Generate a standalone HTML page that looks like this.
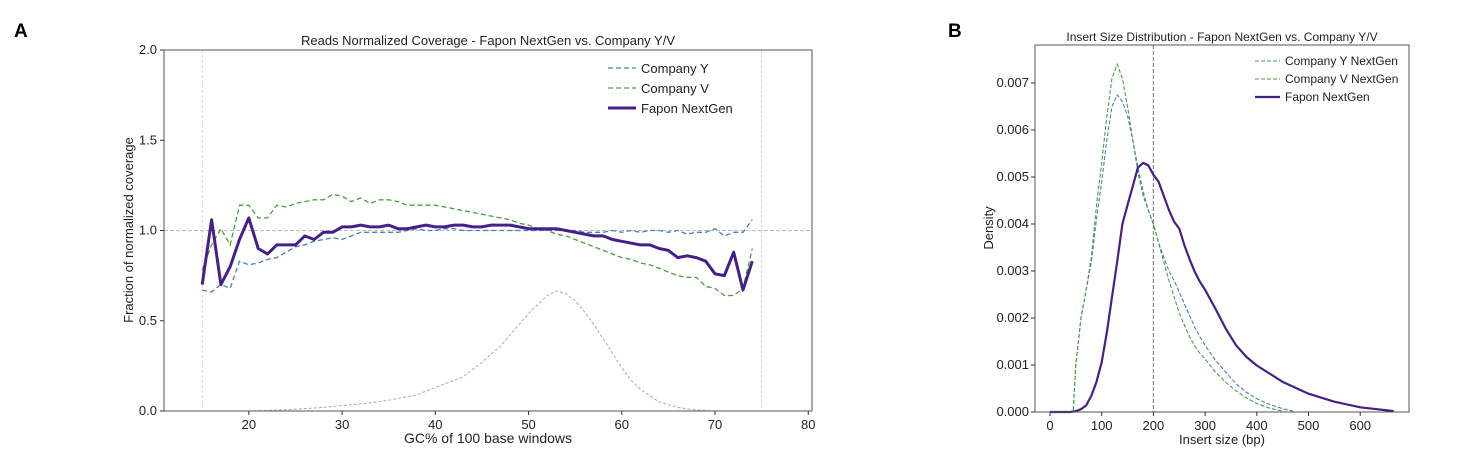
<!DOCTYPE html>
<html><head><meta charset="utf-8"><style>
body{margin:0;background:#fff;}
svg{display:block;font-family:"Liberation Sans","DejaVu Sans",sans-serif;}
</style></head><body>
<svg id="svg" width="1460" height="461" viewBox="0 0 1460 461">
<text x="14" y="37" font-size="19" font-weight="bold">A</text>
<text x="948" y="37" font-size="19" font-weight="bold">B</text>
<g id="chartA"></g>
<g id="chartB"></g>
</svg>
<script>
// ---- Chart A data ----
const gcX = [15,16,17,18,19,20,21,22,23,24,25,26,27,28,29,30,31,32,33,34,35,36,37,38,39,40,41,42,43,44,45,46,47,48,49,50,51,52,53,54,55,56,57,58,59,60,61,62,63,64,65,66,67,68,69,70,71,72,73,74];
const faponCov = [0.70,1.06,0.70,0.80,0.95,1.07,0.90,0.87,0.92,0.92,0.92,0.97,0.95,0.99,0.99,1.02,1.02,1.03,1.02,1.02,1.03,1.01,1.01,1.02,1.03,1.02,1.02,1.03,1.03,1.02,1.02,1.03,1.03,1.03,1.02,1.01,1.01,1.01,1.01,1.00,0.99,0.98,0.97,0.97,0.95,0.94,0.93,0.92,0.92,0.90,0.89,0.85,0.86,0.85,0.83,0.76,0.75,0.88,0.67,0.83];
const companyYCov = [0.67,0.66,0.70,0.68,0.83,0.81,0.82,0.84,0.85,0.88,0.91,0.92,0.94,0.95,0.96,0.95,0.97,0.99,0.99,0.99,0.99,0.99,1.00,1.01,1.00,1.00,1.01,1.01,1.00,1.00,1.00,1.00,1.00,1.00,1.00,1.00,1.00,1.00,1.00,1.00,1.00,0.99,0.99,0.99,1.00,0.99,1.00,0.99,1.00,1.00,0.99,1.00,0.98,0.99,0.99,1.01,0.97,0.99,0.99,1.06];
const companyVCov = [0.78,0.92,1.01,0.92,1.14,1.14,1.07,1.07,1.14,1.13,1.15,1.16,1.17,1.17,1.20,1.19,1.16,1.18,1.15,1.17,1.17,1.16,1.14,1.14,1.14,1.14,1.13,1.12,1.11,1.10,1.09,1.08,1.07,1.06,1.04,1.03,1.01,1.00,0.98,0.97,0.95,0.93,0.91,0.89,0.87,0.85,0.84,0.82,0.81,0.79,0.77,0.75,0.74,0.74,0.69,0.68,0.64,0.64,0.68,0.90];
const gcDistX = [20,22,25,28,30,33,35,38,40,42,43,45,47,48,50,51,52,53,54,55,56,57,58,59,60,61,62,64,66,68,70,72];
const gcDistY = [0.0,0.003,0.01,0.02,0.03,0.045,0.06,0.09,0.13,0.17,0.19,0.27,0.36,0.42,0.54,0.59,0.64,0.665,0.65,0.61,0.55,0.48,0.40,0.32,0.24,0.17,0.12,0.05,0.02,0.005,0.0,0.0];
const xTicksA = [20,30,40,50,60,70,80];
const yTicksA = [0.0,0.5,1.0,1.5,2.0];

// ---- Chart B data ----
const bpY = [0,40,45,50,60,70,80,90,100,110,120,130,140,150,160,170,180,190,200,210,220,230,240,250,260,270,280,290,300,320,340,360,380,400,425,450,470];
const compYDens = [0,0,0.05,1.0,2.0,2.6,3.2,4.1,4.9,5.8,6.5,6.75,6.6,6.3,5.8,5.2,4.7,4.3,4.0,3.6,3.3,3.0,2.8,2.55,2.3,2.05,1.8,1.6,1.42,1.1,0.85,0.6,0.42,0.28,0.16,0.07,0.02];
const bpV = [0,40,45,50,60,70,80,90,100,110,120,130,140,150,160,170,180,190,200,210,220,230,240,250,260,270,280,290,300,320,340,360,380,400,425,450];
const compVDens = [0,0,0.05,1.0,2.0,2.6,3.3,4.4,5.3,6.3,7.1,7.4,7.1,6.5,5.8,5.1,4.6,4.3,4.0,3.6,3.2,2.8,2.45,2.1,1.85,1.6,1.4,1.25,1.13,0.85,0.63,0.45,0.3,0.18,0.08,0.02];
const bpF = [0,40,50,60,70,80,90,100,110,120,130,140,150,160,170,180,190,200,210,220,230,240,250,260,270,280,290,300,320,340,360,380,400,450,500,550,600,665];
const faponDens = [0,0,0.02,0.06,0.14,0.35,0.64,1.06,1.7,2.45,3.2,4.0,4.4,4.8,5.2,5.3,5.25,5.05,4.9,4.6,4.3,4.05,3.9,3.55,3.25,2.98,2.77,2.6,2.2,1.77,1.42,1.17,0.99,0.64,0.39,0.22,0.1,0.02];
const xTicksB = [0,100,200,300,400,500,600];
const yTicksB = [0,1,2,3,4,5,6,7];

const NS="http://www.w3.org/2000/svg";
function mk(parent,tag,attrs,text){const e=document.createElementNS(NS,tag);for(const k in attrs)e.setAttribute(k,attrs[k]);if(text!==undefined)e.textContent=text;parent.appendChild(e);return e;}
function pathD(xs,ys,sx,sy){return xs.map((x,i)=>(i?'L':'M')+sx(x).toFixed(1)+','+sy(ys[i]).toFixed(1)).join('');}

// Chart A
(function(){
const g=document.getElementById('chartA');
const L=164,R=812,T=50,B=411;
const x0=10.9,x1=80.4;
const sx=v=>L+(v-x0)/(x1-x0)*(R-L);
const sy=v=>B-v/2*(B-T);
let e;
e=mk(g,'line',{x1:sx(15),x2:sx(15),y1:T,y2:B,stroke:'#ccc','stroke-width':0.8,'stroke-dasharray':'3,2'});


e=mk(g,'line',{x1:sx(75),x2:sx(75),y1:T,y2:B,stroke:'#ccc','stroke-width':0.8,'stroke-dasharray':'3,2'});


e=mk(g,'line',{x1:L,x2:R,y1:sy(1),y2:sy(1),stroke:'#bbb','stroke-width':1,'stroke-dasharray':'4,2'});


e=mk(g,'path',{d:pathD(gcDistX,gcDistY,sx,sy),fill:'none',stroke:'#aaa','stroke-width':1,'stroke-dasharray':'3,2'});


e=mk(g,'path',{d:pathD(gcX,companyYCov,sx,sy),fill:'none',stroke:'#4a7fc1','stroke-width':1.3,'stroke-dasharray':'5,3'});


e=mk(g,'path',{d:pathD(gcX,companyVCov,sx,sy),fill:'none',stroke:'#4f9a48','stroke-width':1.3,'stroke-dasharray':'5,3'});


e=mk(g,'path',{d:pathD(gcX,faponCov,sx,sy),fill:'none',stroke:'#45208a','stroke-width':3,'stroke-linejoin':'round'});


e=mk(g,'rect',{x:L,y:T,width:R-L,height:B-T,fill:'none',stroke:'#555','stroke-width':1});


xTicksA.forEach(t=>{
 e=mk(g,'line',{x1:sx(t),x2:sx(t),y1:B,y2:B+4,stroke:'#333'});
 
 
 e=mk(g,'text',{x:sx(t),y:B+18,'font-size':13,'text-anchor':'middle',fill:'#222'},String(t));
 
 
});
yTicksA.forEach(t=>{
 e=mk(g,'line',{x1:L-4,x2:L,y1:sy(t),y2:sy(t),stroke:'#333'});
 
 
 e=mk(g,'text',{x:L-7,y:sy(t)+4,'font-size':13,'text-anchor':'end',fill:'#222'},t.toFixed(1));
 
 
});
e=mk(g,'text',{x:(L+R)/2,y:443,'font-size':14,'text-anchor':'middle',fill:'#222'},'GC% of 100 base windows');


e=mk(g,'text',{x:0,y:0,'font-size':13,'text-anchor':'middle',fill:'#222',transform:'translate(133,230) rotate(-90)'},'Fraction of normalized coverage');


e=mk(g,'text',{x:(L+R)/2,y:45,'font-size':13,'text-anchor':'middle',fill:'#222'},'Reads Normalized Coverage - Fapon NextGen vs. Company Y/V');


const leg=[['Company Y','#4a7fc1',1.3,'5,3'],['Company V','#4f9a48',1.3,'5,3'],['Fapon NextGen','#45208a',3,'']];
leg.forEach((l,i)=>{
 const y=68+i*20;
 e=mk(g,'line',{x1:608,x2:636,y1:y,y2:y,stroke:l[1],'stroke-width':l[2],'stroke-dasharray':l[3]});
 
 
 e=mk(g,'text',{x:641,y:y+5,'font-size':13,fill:'#222'},l[0]);
 
 
});
})();

// Chart B
(function(){
const g=document.getElementById('chartB');
const L=1035,R=1409,T=45,B=412;
const sx=v=>1050+v*0.517;
const sy=v=>B-v*47.0;
let e;
e=mk(g,'line',{x1:sx(200),x2:sx(200),y1:T,y2:B,stroke:'#888','stroke-width':1.2,'stroke-dasharray':'4,2'});


e=mk(g,'path',{d:pathD(bpY,compYDens,sx,sy),fill:'none',stroke:'#4a7fc1','stroke-width':1.1,'stroke-dasharray':'4,2'});


e=mk(g,'path',{d:pathD(bpV,compVDens,sx,sy),fill:'none',stroke:'#4f9a48','stroke-width':1.1,'stroke-dasharray':'4,2'});


e=mk(g,'path',{d:pathD(bpF,faponDens,sx,sy),fill:'none',stroke:'#45208a','stroke-width':2.2,'stroke-linejoin':'round'});


e=mk(g,'rect',{x:L,y:T,width:R-L,height:B-T,fill:'none',stroke:'#555','stroke-width':1});


xTicksB.forEach(t=>{
 e=mk(g,'line',{x1:sx(t),x2:sx(t),y1:B,y2:B+4,stroke:'#333'});
 
 
 e=mk(g,'text',{x:sx(t),y:B+18,'font-size':13,'text-anchor':'middle',fill:'#222'},String(t));
 
 
});
yTicksB.forEach(t=>{
 e=mk(g,'line',{x1:L-4,x2:L,y1:sy(t),y2:sy(t),stroke:'#333'});
 
 
 e=mk(g,'text',{x:L-6,y:sy(t)+4,'font-size':13,'text-anchor':'end',fill:'#222'},(t/1000).toFixed(3));
 
 
});
e=mk(g,'text',{x:(L+R)/2,y:444,'font-size':13,'text-anchor':'middle',fill:'#222'},'Insert size (bp)');


e=mk(g,'text',{x:0,y:0,'font-size':13,'text-anchor':'middle',fill:'#222',transform:'translate(993,228) rotate(-90)'},'Density');


e=mk(g,'text',{x:(L+R)/2,y:41,'font-size':12,'text-anchor':'middle',fill:'#222'},'Insert Size Distribution - Fapon NextGen vs. Company Y/V');


const leg=[['Company Y NextGen','#4a7fc1',1.1,'4,2'],['Company V NextGen','#4f9a48',1.1,'4,2'],['Fapon NextGen','#45208a',2.2,'']];
leg.forEach((l,i)=>{
 const y=61+i*18;
 e=mk(g,'line',{x1:1255,x2:1280,y1:y,y2:y,stroke:l[1],'stroke-width':l[2],'stroke-dasharray':l[3]});
 
 
 e=mk(g,'text',{x:1285,y:y+4,'font-size':12,fill:'#222'},l[0]);
 
 
});
})();
</script>
</body></html>
